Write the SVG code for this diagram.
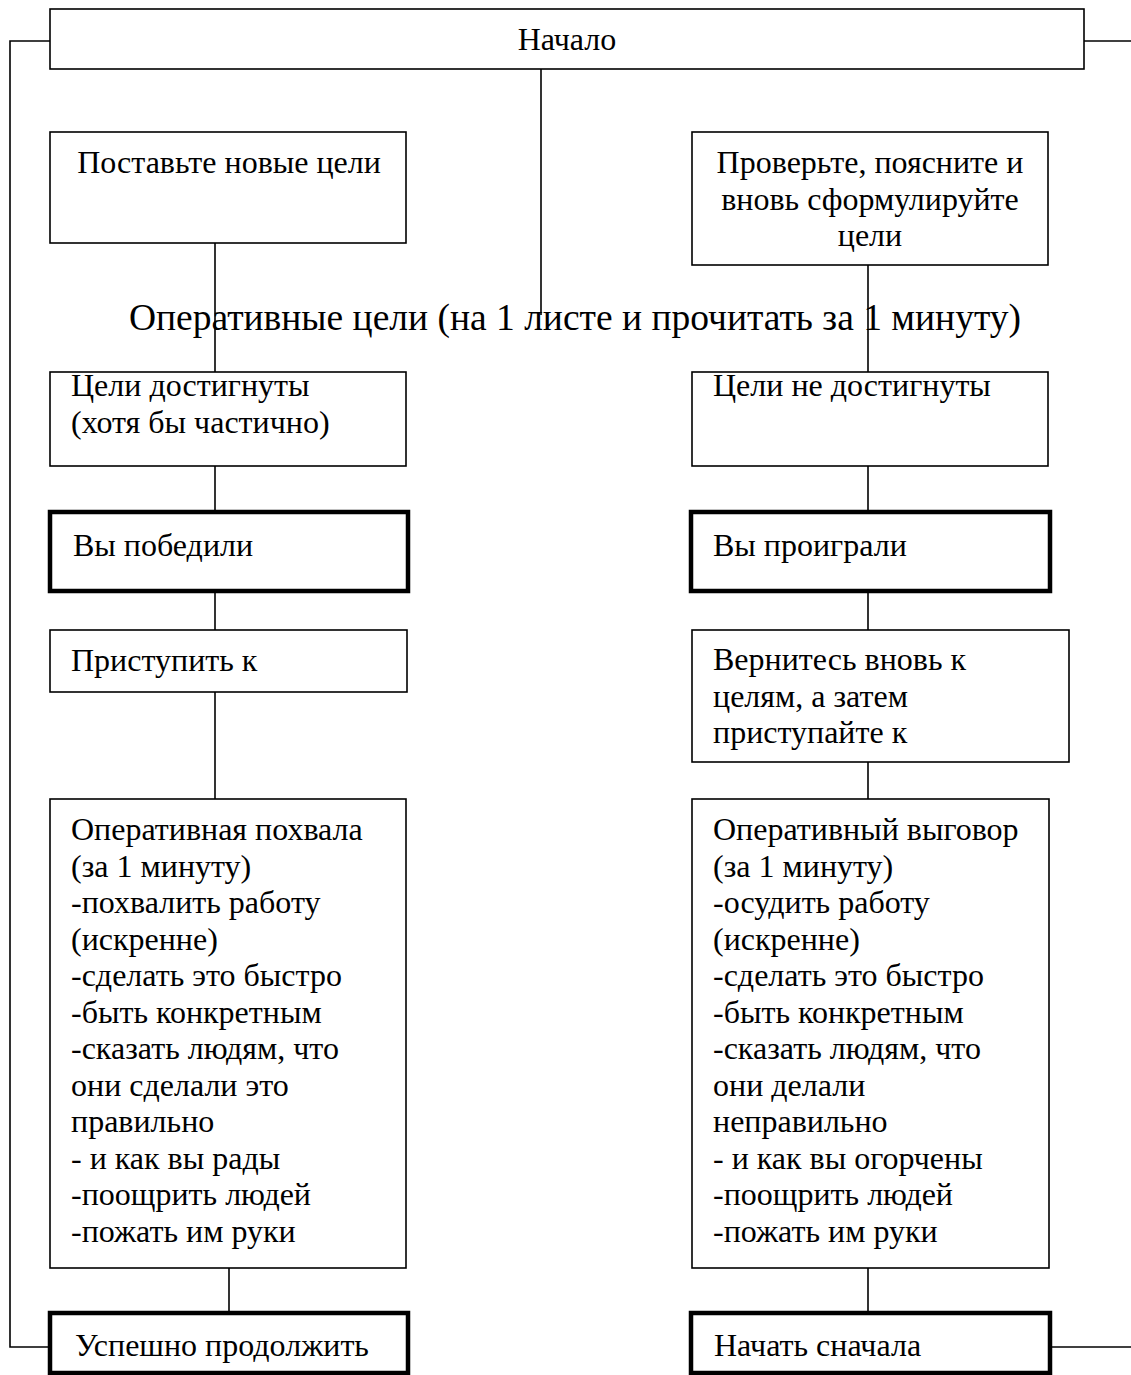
<svg xmlns="http://www.w3.org/2000/svg" width="1131" height="1375" viewBox="0 0 1131 1375">
<style>
.box{fill:#fff;stroke:#000;stroke-width:1.6}
.thick{fill:#fff;stroke:#000;stroke-width:4.5}
.t{font-family:"Liberation Serif","Times New Roman",serif;font-size:32px;fill:#000}
.c{text-anchor:middle}
.con{fill:none;stroke:#000;stroke-width:1.6}
</style>
<rect width="1131" height="1375" fill="#fff"/>
<g id="connectors">
<path class="con" d="M50,41 H10 V1347 H48"/>
<path class="con" d="M1084,41 H1131"/>
<path class="con" d="M1052,1347 H1131"/>
<path class="con" d="M541,69 V315"/>
<path class="con" d="M215,243 V372"/>
<path class="con" d="M868,265 V372"/>
<path class="con" d="M215,466 V511"/>
<path class="con" d="M868,466 V511"/>
<path class="con" d="M215,592 V630"/>
<path class="con" d="M868,592 V630"/>
<path class="con" d="M215,692 V799"/>
<path class="con" d="M868,762 V799"/>
<path class="con" d="M229,1268 V1312"/>
<path class="con" d="M868,1268 V1312"/>
</g>
<g id="label-operative">
<text class="t c" x="575" y="330" style="font-size:37.5px">Оперативные цели (на 1 листе и прочитать за 1 минуту)</text>
</g>
<g id="start">
<rect class="box" x="50" y="9" width="1034" height="60"/>
<text class="t c" x="567" y="50">Начало</text>
</g>
<g id="new-goals">
<rect class="box" x="50" y="132" width="356" height="111"/>
<text class="t c" x="229" y="173">Поставьте новые цели</text>
</g>
<g id="check-goals">
<rect class="box" x="692" y="132" width="356" height="133"/>
<text class="t c" x="870" y="173">Проверьте, поясните и</text>
<text class="t c" x="870" y="210">вновь сформулируйте</text>
<text class="t c" x="870" y="246">цели</text>
</g>
<g id="goals-reached">
<rect class="box" x="50" y="372" width="356" height="94"/>
<text class="t" x="71" y="396">Цели достигнуты</text>
<text class="t" x="71" y="433">(хотя бы частично)</text>
</g>
<g id="goals-not-reached">
<rect class="box" x="692" y="372" width="356" height="94"/>
<text class="t" x="713" y="396">Цели не достигнуты</text>
</g>
<g id="won">
<rect class="thick" x="50" y="512" width="358" height="79"/>
<text class="t" x="73" y="556">Вы победили</text>
</g>
<g id="lost">
<rect class="thick" x="691" y="512" width="359" height="79"/>
<text class="t" x="713" y="556">Вы проиграли</text>
</g>
<g id="proceed">
<rect class="box" x="50" y="630" width="357" height="62"/>
<text class="t" x="71" y="671">Приступить к</text>
</g>
<g id="return">
<rect class="box" x="692" y="630" width="377" height="132"/>
<text class="t" x="713" y="670">Вернитесь вновь к</text>
<text class="t" x="713" y="707">целям, а затем</text>
<text class="t" x="713" y="743">приступайте к</text>
</g>
<g id="praise">
<rect class="box" x="50" y="799" width="356" height="469"/>
<text class="t" x="71" y="840">Оперативная похвала</text>
<text class="t" x="71" y="877">(за 1 минуту)</text>
<text class="t" x="71" y="913">-похвалить работу</text>
<text class="t" x="71" y="950">(искренне)</text>
<text class="t" x="71" y="986">-сделать это быстро</text>
<text class="t" x="71" y="1023">-быть конкретным</text>
<text class="t" x="71" y="1059">-сказать людям, что</text>
<text class="t" x="71" y="1096">они сделали это</text>
<text class="t" x="71" y="1132">правильно</text>
<text class="t" x="71" y="1169">- и как вы рады</text>
<text class="t" x="71" y="1205">-поощрить людей</text>
<text class="t" x="71" y="1242">-пожать им руки</text>
</g>
<g id="reprimand">
<rect class="box" x="692" y="799" width="357" height="469"/>
<text class="t" x="713" y="840">Оперативный выговор</text>
<text class="t" x="713" y="877">(за 1 минуту)</text>
<text class="t" x="713" y="913">-осудить работу</text>
<text class="t" x="713" y="950">(искренне)</text>
<text class="t" x="713" y="986">-сделать это быстро</text>
<text class="t" x="713" y="1023">-быть конкретным</text>
<text class="t" x="713" y="1059">-сказать людям, что</text>
<text class="t" x="713" y="1096">они делали</text>
<text class="t" x="713" y="1132">неправильно</text>
<text class="t" x="713" y="1169">- и как вы огорчены</text>
<text class="t" x="713" y="1205">-поощрить людей</text>
<text class="t" x="713" y="1242">-пожать им руки</text>
</g>
<g id="continue">
<rect class="thick" x="50" y="1313" width="358" height="60"/>
<text class="t" x="75" y="1356">Успешно продолжить</text>
</g>
<g id="restart">
<rect class="thick" x="691" y="1313" width="359" height="60"/>
<text class="t" x="714" y="1356">Начать сначала</text>
</g>
</svg>
